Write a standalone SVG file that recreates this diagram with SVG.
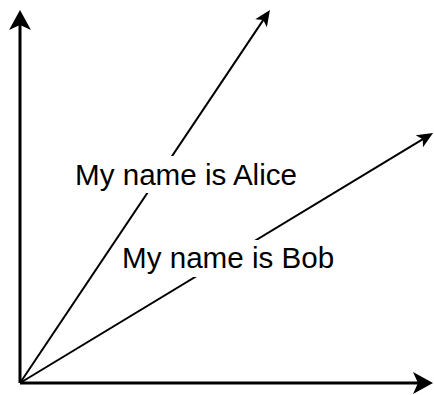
<svg xmlns="http://www.w3.org/2000/svg" width="434" height="395" viewBox="0 0 434 395">
  <style>
    .axis { stroke: #000; stroke-width: 3; fill: none; }
    .vec { stroke: #000; stroke-width: 2; fill: none; }
    .lbl { font-family: "Liberation Sans", Arial, sans-serif; font-size: 29.6px; fill: #000; }
    .bg { fill: #fff; stroke: none; }
  </style>
  <defs>
    <marker id="bigArrow" markerUnits="userSpaceOnUse" markerWidth="30" markerHeight="30" viewBox="-15 -15 30 30" refX="0" refY="0" orient="auto" overflow="visible">
      <path d="M10,0 L-10,-11 L-5,0 L-10,11 Z" fill="#000"/>
    </marker>
    <marker id="smallArrow" markerUnits="userSpaceOnUse" markerWidth="24" markerHeight="24" viewBox="-12 -12 24 24" refX="0" refY="0" orient="auto" overflow="visible">
      <path d="M8,0 L-8,-7 L-4,0 L-8,7 Z" fill="#000"/>
    </marker>
  </defs>
  <rect width="434" height="395" fill="#fff"/>
  <g id="connectors">
    <line id="y-axis" class="axis" x1="20" y1="383" x2="20" y2="20" marker-end="url(#bigArrow)"/>
    <line id="x-axis" class="axis" x1="20" y1="383" x2="423" y2="383" marker-end="url(#bigArrow)"/>
    <line id="alice-vec" class="vec" x1="20" y1="383" x2="265.5" y2="16.6" marker-end="url(#smallArrow)"/>
    <line id="bob-vec" class="vec" x1="20" y1="383" x2="426.2" y2="137.1" marker-end="url(#smallArrow)"/>
  </g>
  <g id="label-alice">
    <rect class="bg" x="73" y="156" width="229" height="37"/>
    <text class="lbl" x="75" y="185">My name is Alice</text>
  </g>
  <g id="label-bob">
    <rect class="bg" x="120" y="240" width="218" height="37"/>
    <text class="lbl" x="122" y="268">My name is Bob</text>
  </g>
</svg>
